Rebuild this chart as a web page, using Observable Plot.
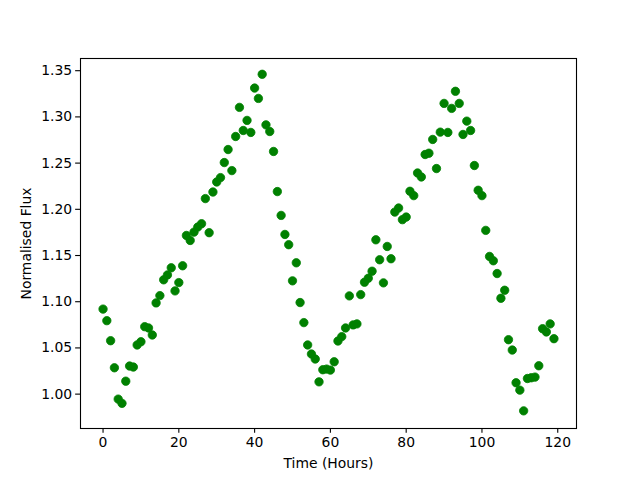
<!DOCTYPE html>
<html>
<head>
<meta charset="utf-8">
<script src="https://cdn.jsdelivr.net/npm/d3@7"></script>
<script src="https://cdn.jsdelivr.net/npm/@observablehq/plot@0.6"></script>
<style>
  html, body { margin: 0; padding: 0; background: white; }
</style>
</head>
<body>
<div id="chart"></div>
<script>
const hours = d3.range(0, 120);
const flux = [
  1.092, 1.0795, 1.0578, 1.0285, 0.9946, 0.990, 1.014, 1.0304, 1.0293, 1.0532,
  1.0567, 1.073, 1.0716, 1.064, 1.0987, 1.1066, 1.1237, 1.129, 1.1367, 1.1117,
  1.1207, 1.1389, 1.1717, 1.1663, 1.1753, 1.1808, 1.1844, 1.2116, 1.1747, 1.2187,
  1.2296, 1.2343, 1.2506, 1.2647, 1.2419, 1.2788, 1.3103, 1.2853, 1.2962, 1.2832,
  1.3312, 1.320, 1.3461, 1.2914, 1.2842, 1.2626, 1.2192, 1.1934, 1.1728, 1.1617,
  1.1226, 1.1421, 1.0991, 1.0774, 1.0532, 1.0434, 1.038, 1.0133, 1.0264, 1.0271,
  1.026, 1.035, 1.0575, 1.0622, 1.0716, 1.1063, 1.0749, 1.076, 1.1077, 1.1211,
  1.1254, 1.133, 1.167, 1.1454, 1.1204, 1.1598, 1.1465, 1.197, 1.2014, 1.1888,
  1.1916, 1.2195, 1.2148, 1.2393, 1.235, 1.2593, 1.2607, 1.2756, 1.2441, 1.2835,
  1.3146, 1.2832, 1.3092, 1.3277, 1.3146, 1.281, 1.2954, 1.2853, 1.2474, 1.2206,
  1.2148, 1.1772, 1.149, 1.1443, 1.1305, 1.1037, 1.1124, 1.0589, 1.0477, 1.0123,
  1.0043, 0.9819, 1.0169, 1.0177, 1.0184, 1.0307, 1.0708, 1.0673, 1.076, 1.060
];
const xTicks = [0, 20, 40, 60, 80, 100, 120];
const yTicks = [1.00, 1.05, 1.10, 1.15, 1.20, 1.25, 1.30, 1.35];

const data = hours.map((t, i) => ({t, v: flux[i]}));

const chart = Plot.plot({
  width: 640,
  height: 480,
  marginLeft: 80,
  marginRight: 64,
  marginTop: 58,
  marginBottom: 52,
  style: {fontFamily: "DejaVu Sans", fontSize: "13.9px", background: "white", color: "black", overflow: "visible"},
  x: {domain: [-5.95, 124.95]},
  y: {domain: [0.9628, 1.3632]},
  marks: [
    Plot.dot(data, {x: "t", y: "v", r: 4.2, fill: "green", stroke: "green", strokeWidth: 0.8}),
    Plot.frame({stroke: "black", strokeWidth: 1.1}),
    Plot.axisX({ticks: xTicks, tickSize: 4.86, tickPadding: 3.5, strokeWidth: 1.1,
      label: "Time (Hours)", labelAnchor: "center", labelArrow: "none", labelOffset: 39}),
    Plot.axisY({ticks: yTicks, tickFormat: d3.format(".2f"), tickSize: 4.86, tickPadding: 3.5, strokeWidth: 1.1,
      label: "Normalised Flux", labelAnchor: "center", labelArrow: "none", labelOffset: 59})
  ]
});
document.getElementById("chart").appendChild(chart);
</script>
</body>
</html>
